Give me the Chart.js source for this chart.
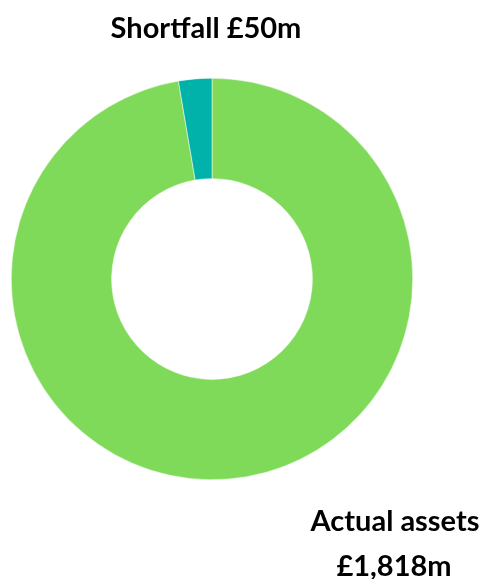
<!DOCTYPE html>
<html>
<head>
<meta charset="utf-8">
<script src="https://cdn.jsdelivr.net/npm/chart.js@4"></script>
<style>
  html, body { margin: 0; padding: 0; background: #ffffff; }
  #wrap { position: relative; width: 484px; height: 579px; }
</style>
</head>
<body>
<div id="wrap"><canvas id="fundChart"></canvas></div>
<script>
// data
const categorias = ["Actual assets", "Shortfall"];
const valores = [1818, 50];
const cores = ["#80da5a", "#00b2a9"];

function formatar(v) {
  return "£" + v.toLocaleString("en-GB") + "m";
}

// labels drawn as text on the canvas
const rotulosPlugin = {
  id: "rotulos",
  afterDraw(chart) {
    const ctx = chart.ctx;
    ctx.save();
    ctx.fillStyle = "#000000";
    ctx.font = "bold 29px Lato, 'Open Sans', sans-serif";
    ctx.textAlign = "center";
    ctx.textBaseline = "middle";
    ctx.fillText(categorias[1] + " " + formatar(valores[1]), 206, 29);
    ctx.fillText(categorias[0], 395, 522);
    ctx.fillText(formatar(valores[0]), 394, 567);
    ctx.restore();
  },
};

const ctx = document.getElementById("fundChart").getContext("2d");
new Chart(ctx, {
  type: "doughnut",
  data: {
    labels: categorias,
    datasets: [
      {
        data: valores,
        backgroundColor: cores,
        borderColor: "#ffffff",
        borderWidth: 0.5,
      },
    ],
  },
  options: {
    responsive: true,
    maintainAspectRatio: false,
    animation: false,
    cutout: "50%",
    layout: {
      padding: { left: 11, right: 71, top: 78, bottom: 99 },
    },
    plugins: {
      legend: { display: false },
      tooltip: { enabled: false },
    },
  },
  plugins: [rotulosPlugin],
});
</script>
</body>
</html>
